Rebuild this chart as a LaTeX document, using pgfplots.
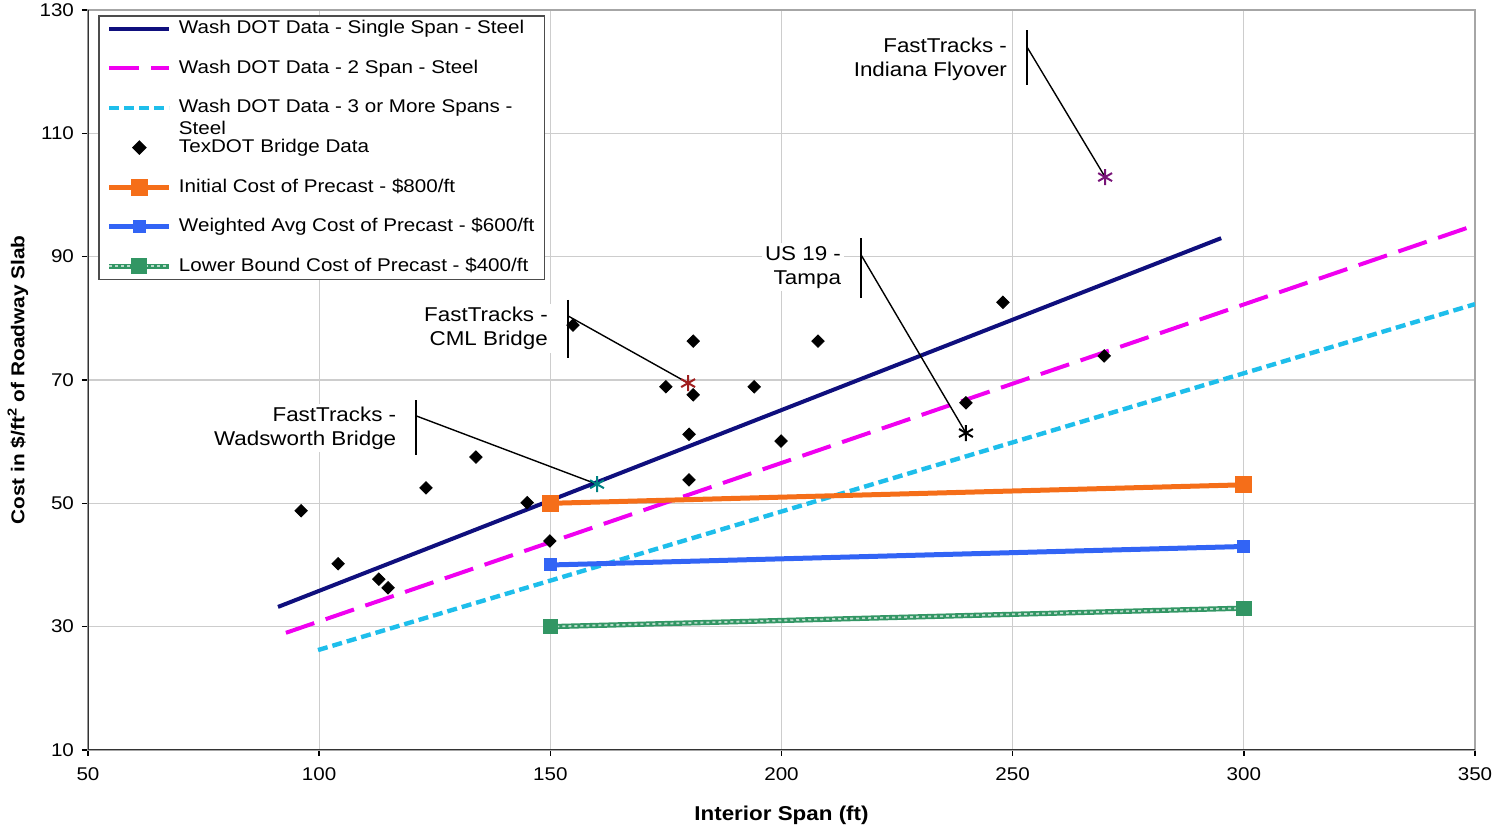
\documentclass[border=0pt]{standalone}
\usepackage{pgfplots}
\pgfplotsset{compat=1.18}
\usepackage{fontspec}
\setmainfont[FakeStretch=1.12]{Liberation Sans}
\definecolor{navyline}{RGB}{15,15,125}
\definecolor{magline}{RGB}{240,0,240}
\definecolor{cyanline}{RGB}{30,190,235}
\definecolor{orangeline}{RGB}{245,110,25}
\definecolor{blueline}{RGB}{50,100,245}
\definecolor{greenline}{RGB}{50,150,100}
\definecolor{gridgray}{RGB}{205,205,205}
\definecolor{cmlred}{RGB}{160,30,30}
\definecolor{wadteal}{RGB}{0,130,130}
\definecolor{indpurple}{RGB}{120,20,120}
\pgfplotsset{
  diamondleg/.style={legend image code/.code={\draw[##1] plot coordinates {(15pt,0pt)};}},
  greenleg/.style={legend image code/.code={
    \draw[greenline, line width=2.6pt] (0pt,0pt) -- (30pt,0pt);
    \draw[greenline!35!white, line width=0.9pt, dash pattern=on 1.5pt off 1.5pt] (0pt,0pt) -- (30pt,0pt);
    \draw[##1] plot coordinates {(15pt,0pt)};}},
  lineleg/.style={legend image code/.code={\draw[mark repeat=2, mark phase=2, ##1] plot coordinates {(0pt,0pt) (15pt,0pt) (30pt,0pt)};}},
}
\pgfplotstableread{
x y
96.1 48.8
104.1 40.2
112.9 37.7
114.9 36.3
123.1 52.5
133.9 57.5
145.0 50.1
149.9 43.9
154.9 78.9
175.0 68.9
180.9 76.3
180.9 67.6
180.0 61.2
180.0 53.8
194.1 68.9
199.9 60.1
207.9 76.3
239.9 66.3
247.9 82.6
269.8 73.9
}\texdot
\begin{document}
\begin{tikzpicture}
\begin{axis}[
  scale only axis, width=693.5pt, height=370pt,
  xmin=50, xmax=350, ymin=10, ymax=130,
  xtick={50,100,...,350}, ytick={10,30,...,130},
  grid=major, major grid style={gridgray, line width=0.6pt},
  axis line style={draw=gray!70, line width=0.8pt},
  tick align=outside, xtick pos=bottom, ytick pos=left,
  major tick length=3pt, tick style={black, line width=0.8pt},
  /pgf/number format/assume math mode=true,
  ticklabel style={font=\fontsize{9.2}{11}\selectfont},
  xticklabel style={yshift=-2.5pt},
  yticklabel style={xshift=-0.5pt},
  xlabel={\textbf{Interior Span (ft)}},
  ylabel={\textbf{Cost in \$/ft\textsuperscript{2} of Roadway Slab}},
  xlabel style={font=\fontsize{10}{12}\selectfont, at={(axis description cs:0.5,-0.0878)}, anchor=center},
  ylabel style={font=\fontsize{9.3}{11}\selectfont, at={(axis description cs:-0.0505,0.5)}, anchor=center},
  legend style={at={(rel axis cs:0,1)}, anchor=north west, xshift=5pt, yshift=-2.5pt,
    draw=black!70, line width=0.8pt, fill=white, font=\fontsize{9.2}{11}\selectfont,
    row sep=8.8pt, inner xsep=4pt, inner ysep=1pt,
    /tikz/every odd column/.append style={column sep=2.5pt},
    nodes={inner sep=1pt, text height=7pt, text depth=2pt}},
  legend cell align=left,
  lineleg,
]
\addplot[navyline, line width=2pt] coordinates {(91.1,33.2) (295.1,93.0)};
\addlegendentry{Wash DOT Data - Single Span - Steel}
\addplot[magline, line width=2pt, dash pattern=on 15pt off 6pt] coordinates {(92.8,29.0) (350,95.1)};
\addlegendentry{Wash DOT Data - 2 Span - Steel}
\addplot[cyanline, line width=2.2pt, dash pattern=on 5pt off 2.5pt] coordinates {(99.75,26.2) (350,82.3)};
\addlegendentry{\smash{\begin{tabular}[t]{@{}l@{}}Wash DOT Data - 3 or More Spans -\\Steel\end{tabular}}}
\addplot[only marks, mark=square*, mark size=2.2pt, mark options={rotate=45, fill=black, draw=black}, diamondleg] table {\texdot};
\addlegendentry{TexDOT Bridge Data}
\addplot[orangeline, line width=2.5pt, mark=square*, mark size=3pt, mark options={solid}] coordinates {(150,50) (300,53)};
\addlegendentry{Initial Cost of Precast - \$800/ft}
\addplot[blueline, line width=2.5pt, mark=square*, mark size=2pt, mark options={solid}] coordinates {(150,40) (300,43)};
\addlegendentry{Weighted Avg Cost of Precast - \$600/ft}
\addplot[forget plot, greenline, line width=2.6pt] coordinates {(150,30) (300,33)};
\addplot[forget plot, greenline!35!white, line width=0.9pt, dash pattern=on 1.5pt off 1.5pt] coordinates {(150,30) (300,33)};
\addplot[only marks, greenline, mark=square*, mark size=3.6pt, greenleg] coordinates {(150,30) (300,33)};
\addlegendentry{Lower Bound Cost of Precast - \$400/ft}
% callout leaders
\addplot[forget plot, black, line width=0.9pt] coordinates {(253.1,126.75) (253.1,117.8)};
\addplot[forget plot, black, line width=0.7pt] coordinates {(253.1,124.0) (270,102.9)};
\addplot[forget plot, black, line width=0.9pt] coordinates {(217.2,93.0) (217.2,83.3)};
\addplot[forget plot, black, line width=0.7pt] coordinates {(217.2,90.3) (239.9,61.4)};
\addplot[forget plot, black, line width=0.9pt] coordinates {(153.8,83.0) (153.8,73.6)};
\addplot[forget plot, black, line width=0.7pt] coordinates {(153.8,80.4) (179.8,69.5)};
\addplot[forget plot, black, line width=0.9pt] coordinates {(120.9,66.75) (120.9,57.8)};
\addplot[forget plot, black, line width=0.7pt] coordinates {(120.9,64.2) (160.1,53.1)};
% FastTracks points
\addplot[forget plot, only marks, mark=asterisk, mark size=4pt, line width=1pt, indpurple] coordinates {(270,102.9)};
\addplot[forget plot, only marks, mark=asterisk, mark size=4pt, line width=1pt, black] coordinates {(239.9,61.4)};
\addplot[forget plot, only marks, mark=asterisk, mark size=4pt, line width=1pt, cmlred] coordinates {(179.8,69.5)};
\addplot[forget plot, only marks, mark=asterisk, mark size=4pt, line width=1pt, wadteal] coordinates {(160.1,53.1)};
\begin{scope}[every node/.style={font=\fontsize{10}{12}\selectfont, align=right, anchor=east, fill=white, inner sep=1.5pt}]
\node at (axis cs:249.5,122.05) {FastTracks -\\Indiana Flyover};
\node at (axis cs:213.6,88.3) {US 19 -\\Tampa};
\node at (axis cs:150.2,78.4) {FastTracks -\\CML Bridge};
\node at (axis cs:117.4,62.2) {FastTracks -\\Wadsworth Bridge};
\end{scope}
\draw[black!80, line width=1pt] (rel axis cs:0,1) -- (rel axis cs:0,0) -- (rel axis cs:1,0);
\coordinate (ll) at (rel axis cs:0,0);
\coordinate (ur) at (rel axis cs:1,1);
\end{axis}
\pgfresetboundingbox
\path[use as bounding box] ([shift={(-44pt,-39pt)}]ll) rectangle ([shift={(10pt,5pt)}]ur);
\end{tikzpicture}
\end{document}
